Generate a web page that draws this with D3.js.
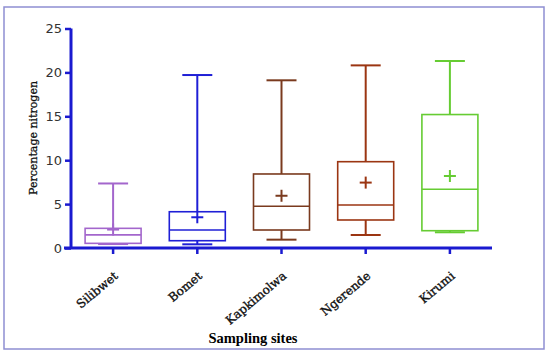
<!DOCTYPE html>
<html>
<head>
<meta charset="utf-8">
<script src="https://cdn.jsdelivr.net/npm/d3@7"></script>
<style>
  body { margin: 0; background: #fff; }
</style>
</head>
<body>
<div id="chart"></div>
<script>
const sites = ["Silibwet", "Bomet", "Kapkimolwa", "Ngerende", "Kirumi"];
const colors = ["#a366cc", "#1f1fd6", "#7a3a1e", "#9b3512", "#66cc33"];
const whiskerLow = [0.45, 0.42, 0.95, 1.48, 1.79];
const q1 = [0.53, 0.83, 2.05, 3.19, 1.97];
const median = [1.5, 2.05, 4.75, 4.9, 6.69];
const q3 = [2.24, 4.13, 8.43, 9.83, 15.2];
const whiskerHigh = [7.35, 19.7, 19.1, 20.8, 21.3];
const means = [2.1, 3.5, 5.95, 7.45, 8.2];
const yTicks = [0, 5, 10, 15, 20, 25];

const w = 550, h = 355;
const axisColor = "#1a1ad0";

const svg = d3.select("#chart").append("svg")
  .attr("width", w).attr("height", h);

// outer frame
svg.append("rect")
  .attr("x", 4).attr("y", 7)
  .attr("width", 540).attr("height", 342)
  .attr("fill", "#fff")
  .attr("stroke", "#8e8ed2")
  .attr("stroke-width", 1.5);

const x = d3.scaleBand().domain(sites).range([71, 492]);
const y = d3.scaleLinear().domain([0, 25]).range([248, 28.5]);

const data = sites.map((s, i) => ({
  site: s, color: colors[i], lo: whiskerLow[i], q1: q1[i],
  med: median[i], q3: q3[i], hi: whiskerHigh[i], mean: means[i]
}));

const cx = d => x(d.site) + x.bandwidth() / 2;

// boxes
const boxW = 56, capW = 30, plus = 6;
const g = svg.selectAll(".box").data(data).enter().append("g")
  .attr("class", "box")
  .attr("stroke", d => d.color)
  .attr("stroke-width", 1.6)
  .attr("fill", "none");

g.append("line")
  .attr("x1", cx).attr("x2", cx)
  .attr("y1", d => y(d.hi)).attr("y2", d => y(d.q3))
  .attr("stroke-width", 2);
g.append("line")
  .attr("x1", cx).attr("x2", cx)
  .attr("y1", d => y(d.q1)).attr("y2", d => y(d.lo))
  .attr("stroke-width", 2);
g.append("line")
  .attr("x1", d => cx(d) - capW / 2)
  .attr("x2", d => cx(d) + capW / 2)
  .attr("y1", d => y(d.hi)).attr("y2", d => y(d.hi))
  .attr("stroke-width", 2);
g.append("line")
  .attr("x1", d => cx(d) - capW / 2)
  .attr("x2", d => cx(d) + capW / 2)
  .attr("y1", d => y(d.lo)).attr("y2", d => y(d.lo))
  .attr("stroke-width", 2);
g.append("rect")
  .attr("x", d => cx(d) - boxW / 2)
  .attr("width", boxW)
  .attr("y", d => y(d.q3))
  .attr("height", d => y(d.q1) - y(d.q3))
  .attr("fill", "#fff");
g.append("line")
  .attr("x1", d => cx(d) - boxW / 2)
  .attr("x2", d => cx(d) + boxW / 2)
  .attr("y1", d => y(d.med)).attr("y2", d => y(d.med));
// mean markers
g.append("line")
  .attr("x1", d => cx(d) - plus)
  .attr("x2", d => cx(d) + plus)
  .attr("y1", d => y(d.mean)).attr("y2", d => y(d.mean))
  .attr("stroke-width", 2);
g.append("line")
  .attr("x1", cx).attr("x2", cx)
  .attr("y1", d => y(d.mean) - plus).attr("y2", d => y(d.mean) + plus)
  .attr("stroke-width", 2);

// y axis
const yAxis = svg.append("g")
  .attr("transform", "translate(71,0)")
  .call(d3.axisLeft(y).tickValues(yTicks).tickSize(6).tickPadding(3));
yAxis.select(".domain").attr("stroke", axisColor).attr("stroke-width", 3)
  .attr("d", `M0,${y(25)}V${y(0)}`);
yAxis.selectAll(".tick line").attr("stroke", axisColor).attr("stroke-width", 2.5);
yAxis.selectAll(".tick text")
  .attr("fill", "#333")
  .style("font-family", "DejaVu Sans, sans-serif")
  .style("font-size", "13px");

// x axis
const xAxis = svg.append("g")
  .attr("transform", "translate(0,248)")
  .call(d3.axisBottom(x).tickSize(6).tickSizeOuter(0));
xAxis.select(".domain").attr("stroke", axisColor).attr("stroke-width", 3)
  .attr("d", "M64,0H492");
xAxis.selectAll(".tick line").attr("stroke", axisColor).attr("stroke-width", 2.5);
xAxis.selectAll(".tick text")
  .attr("fill", "#111")
  .attr("stroke", "#111")
  .attr("stroke-width", 0.35)
  .attr("text-anchor", "end")
  .attr("transform", "translate(3,26) rotate(-40)")
  .attr("dy", "0.35em")
  .attr("y", 0)
  .style("font-family", "DejaVu Serif, serif")
  .style("font-size", "12px");

// axis titles
svg.append("text")
  .attr("transform", "translate(37,138) rotate(-90)")
  .attr("text-anchor", "middle")
  .attr("fill", "#111")
  .attr("stroke", "#111")
  .attr("stroke-width", 0.3)
  .style("font-family", "DejaVu Serif, serif")
  .style("font-size", "11px")
  .text("Percentage nitrogen");

svg.append("text")
  .attr("x", 253).attr("y", 343)
  .attr("text-anchor", "middle")
  .style("font-family", "Liberation Serif, serif")
  .style("font-size", "14.5px")
  .style("font-weight", "bold")
  .text("Sampling sites");
</script>
</body>
</html>
